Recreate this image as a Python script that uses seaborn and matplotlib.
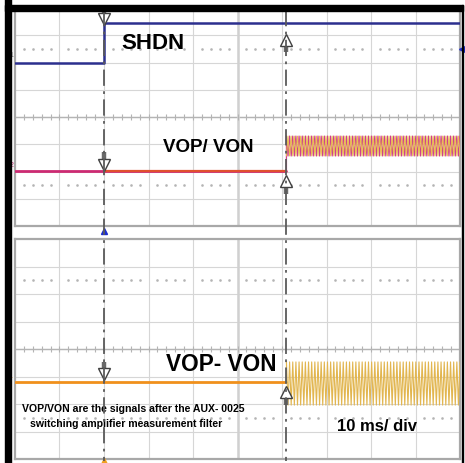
import numpy as np
import pandas as pd
import matplotlib
matplotlib.use("Agg")
import matplotlib.pyplot as plt
import seaborn as sns
from matplotlib.patches import Rectangle

sns.set_theme(style="white")
plt.rcParams["font.family"] = ["Liberation Sans", "DejaVu Sans"]

# ---------------- data (time in ms, 10 ms/div; amplitude in divisions) ----------------
t_window = [-50, 50]
cursor_times = [-30, 11]

shdn_times = [-50, -30, -30, 50]
shdn_levels = [2.0, 2.0, 3.45, 3.45]

vop_times = [-50, 11]
vop_levels = [-1.98, -1.98]
von_times = [-30, 11]
von_levels = [-1.98, -1.98]
burst_upper_levels = [-0.70, -1.43]

diff_times = [-50, 11]
diff_levels = [-1.20, -1.20]
burst_lower_levels = [-0.47, -2.04]

burst_cycles = 55

labels_upper = ["SHDN", "VOP/ VON"]
label_lower = "VOP- VON"
note_lines = ["VOP/VON are the signals after the AUX- 0025",
              "switching amplifier measurement filter"]
timebase = "10 ms/ div"

# ---------------- figure ----------------
W, H = 465, 464
fig = plt.figure(figsize=(W / 100, H / 100), dpi=100)
fig.patch.set_facecolor("white")


def fx(px):
    return px / W


def fy(py):
    return 1 - py / H


ax_u = fig.add_axes([fx(15), fy(227), fx(460) - fx(15), fy(9) - fy(227)])
ax_l = fig.add_axes([fx(15), fy(460), fx(460) - fx(15), fy(240) - fy(460)])

GRID = "#d6d6d6"
AXC = "#b4b4b4"


def scope_grid(ax):
    ax.set_xlim(*t_window)
    ax.set_ylim(-4, 4)
    ax.set_xticks([])
    ax.set_yticks([])
    for s in ax.spines.values():
        s.set_color("#a8a8a8")
        s.set_linewidth(1.6)
    ax.vlines(np.arange(-40, 50, 10), -4, 4, color=GRID, lw=0.8, zorder=0)
    ax.hlines(np.arange(-3, 4, 1), -50, 50, color=GRID, lw=0.8, zorder=0)
    # center cross with minor ticks
    ax.hlines(0, -50, 50, color=AXC, lw=1.0, zorder=0)
    ax.vlines(0, -4, 4, color="#d0d0d0", lw=1.8, zorder=0)
    mt = np.arange(-48, 50, 2)
    ax.vlines(mt, -0.1, 0.1, color=AXC, lw=0.8, zorder=0)
    # dotted rows
    dx = np.array([m for m in mt if m % 10 != 0])
    for yy in (2.5, -2.5):
        ax.plot(dx, np.full(len(dx), yy), ls="none", marker="s", ms=0.8,
                color="#b4b4b4", zorder=0)


scope_grid(ax_u)
scope_grid(ax_l)


def burst(levels, phase=0):
    t = np.linspace(cursor_times[1], t_window[1], 2 * burst_cycles + 1)
    lv = levels if phase == 0 else levels[::-1]
    v = np.resize(lv, len(t))
    return t, v


def trace(ax, t, v, color, lw, z):
    df = pd.DataFrame({"t": t, "v": v})
    sns.lineplot(data=df, x="t", y="v", ax=ax, color=color, lw=lw,
                 estimator=None, sort=False, zorder=z)


# upper panel traces
trace(ax_u, shdn_times, shdn_levels, "#2c2f8e", 1.8, 5)
trace(ax_u, vop_times, vop_levels, "#cc2a72", 2.0, 4)
trace(ax_u, von_times, von_levels, "#e0502e", 1.6, 5)
tb, vb = burst(burst_upper_levels, 0)
trace(ax_u, np.r_[cursor_times[1], tb], np.r_[vop_levels[-1], vb], "#d0408a", 0.9, 4)
tb2, vb2 = burst(burst_upper_levels, 1)
trace(ax_u, tb2, vb2, "#e8c050", 0.7, 5)

# lower panel traces
trace(ax_l, diff_times, diff_levels, "#f0901c", 2.0, 4)
tl, vl = burst(burst_lower_levels, 0)
trace(ax_l, np.r_[cursor_times[1], tl], np.r_[diff_levels[-1], vl], "#e2b650", 0.8, 4)

for ax in (ax_u, ax_l):
    ax.set_xlabel("")
    ax.set_ylabel("")
    ax.set_xlim(*t_window)
    ax.set_ylim(-4, 4)

# cursor lines across whole figure
ov = fig.add_axes([fx(15), 0, fx(460) - fx(15), 1])
ov.set_xlim(*t_window)
ov.set_ylim(H, 0)
ov.axis("off")
ov.patch.set_alpha(0)
for ct in cursor_times:
    ov.vlines(ct, 11, 462, color="#5a5a5a", lw=1.3,
              linestyles=[(0, (9, 3, 1.5, 3))], zorder=2)


def marker(ax, t, y, direction):
    shaft = 0.45 if direction == "down" else -0.45
    head = 0.18 if direction == "down" else -0.18
    ax.plot([t, t], [y + head, y + head + shaft], color="#6a6a6a", lw=3.2,
            solid_capstyle="butt", zorder=8, clip_on=False)
    ax.plot([t], [y + head], marker="v" if direction == "down" else "^",
            ms=8, mfc="white", mec="#404040", mew=1.0, ls="none", zorder=9,
            clip_on=False)


marker(ax_u, cursor_times[0], shdn_levels[-1] - 0.05, "down")
marker(ax_u, cursor_times[1], shdn_levels[-1] - 0.45, "up")
marker(ax_u, cursor_times[0], vop_levels[0] + 0.05, "down")
marker(ax_u, cursor_times[1], vop_levels[0] - 0.2, "up")
marker(ax_l, cursor_times[0], diff_levels[0] + 0.1, "down")
marker(ax_l, cursor_times[1], diff_levels[0] - 0.2, "up")

# trigger / level indicators
ax_u.plot([cursor_times[0]], [-4.18], marker="^", ms=5, color="#1a2cd0",
          ls="none", clip_on=False, zorder=9)
ax_l.plot([cursor_times[0]], [-4.08], marker="^", ms=5, color="#f0a020",
          ls="none", clip_on=False, zorder=9)
ax_u.plot([50.4], [2.5], marker="<", ms=4, color="#1a2cd0", ls="none",
          clip_on=False, zorder=9)

# channel tags
ax_u.text(-50.9, 2.31, "1", fontsize=5, color="#707070", ha="center", va="center")
ax_u.text(-50.8, -1.76, "2", fontsize=5, color="#c02a70", ha="center", va="center")
ax_l.text(-51.0, -0.98, "1", fontsize=5, color="#e08a20", ha="center", va="center")

# text
bold = dict(fontweight="bold", color="black")
ax_u.text(-26.0, 2.75, labels_upper[0], fontsize=16, ha="left", va="center", **bold)
ax_u.text(-16.7, -1.1, labels_upper[1], fontsize=13.5, ha="left", va="center", **bold)
ax_l.text(-16.1, -0.53, label_lower, fontsize=16.3, ha="left", va="center", **bold)
ax_l.text(-48.4, -2.15, note_lines[0], fontsize=7.55, ha="left", va="center", **bold)
ax_l.text(-46.6, -2.7, note_lines[1], fontsize=7.55, ha="left", va="center", **bold)
ax_l.text(22.4, -2.8, timebase, fontsize=12, ha="left", va="center", **bold)

# outer black frame
fig.add_artist(Rectangle((fx(5), 0), fx(6), 1, transform=fig.transFigure,
                         color="black", zorder=20))
fig.add_artist(Rectangle((fx(5), fy(12)), fx(458), fx(6) * W / H,
                         transform=fig.transFigure, color="black", zorder=20))
fig.add_artist(Rectangle((fx(461.5), 0), fx(1.8), fy(6), transform=fig.transFigure,
                         color="black", zorder=20))

fig.savefig("out.png", dpi=100)
